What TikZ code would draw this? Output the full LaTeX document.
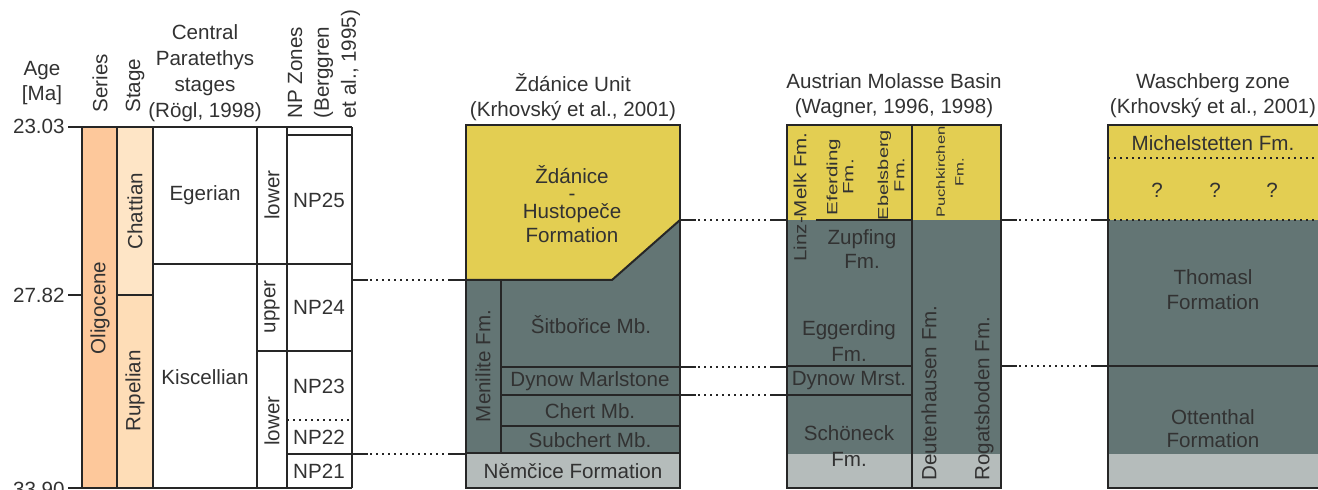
\documentclass[tikz,border=0pt]{standalone}
\usepackage{fontspec}
\setmainfont{Liberation Sans}
\usepackage{xcolor}

\definecolor{olig}{RGB}{253,200,155}
\definecolor{chatt}{RGB}{254,229,198}
\definecolor{rupel}{RGB}{254,221,183}
\definecolor{fmyellow}{RGB}{227,206,82}
\definecolor{fmgrey}{RGB}{99,117,116}
\definecolor{fmlight}{RGB}{181,188,187}
\definecolor{ink}{RGB}{50,50,50}

% correlation line: solid stubs at the ends, dotted between
\newcommand{\corrline}[2]{%
  \draw[dotrule] (#1) -- (#2);
  \draw[rule] (#1) -- ++(16,0);
  \draw[rule] (#2) -- ++(-16,0);}

\begin{document}
\begin{tikzpicture}[
  x=0.5pt, y=-0.5pt,
  every node/.style={font=\fontsize{10.3}{12.6}\selectfont, text=ink, inner sep=0pt},
  frame/.style={draw=black!85, line width=1.2pt},
  rule/.style={draw=black!85, line width=1pt},
  dotrule/.style={draw=black!85, line width=1pt, dash pattern=on 1.2pt off 1.8pt},
  vlabel/.style={rotate=90, align=center},
  squash/.style={rotate=90, yscale=0.72, align=center}
]
\useasboundingbox (0,0) rectangle (1318,490);
\clip (0,0) rectangle (1318,490);

% Headers
\node[align=center] (agehd) at (42,83) {Age\\{[Ma]}};
\node[rotate=90, anchor=west] (serieshd) at (100,113) {Series};
\node[rotate=90, anchor=west] (stagehd) at (135,113) {Stage};
\node[align=center, font=\fontsize{10.3}{13}\selectfont] (cpshd) at (205,73) {Central\\Paratethys\\stages\\(Rögl, 1998)};
\node[rotate=90, anchor=west, align=left, font=\fontsize{10.3}{13.4}\selectfont] (nphd) at (324,119) {NP Zones\\(Berggren\\et al., 1995)};
\node[align=center] (zdhd) at (573,97) {Ždánice Unit\\(Krhovský et al., 2001)};
\node[align=center] (mohd) at (894,96) {Austrian Molasse Basin\\(Wagner, 1996, 1998)};
\node[align=center] (wahd) at (1213,96) {Waschberg zone\\(Krhovský et al., 2001)};

% Ages
\node[anchor=east] (age1) at (65,126) {23.03};
\node[anchor=east] (age2) at (65,295) {27.82};
\node[anchor=east] (age3) at (65,489) {33.90};

% Chronostratigraphy
\fill[olig] (82,127) rectangle (117,488);
\fill[chatt] (117,127) rectangle (153,295);
\fill[rupel] (117,295) rectangle (153,488);
\draw[rule] (68,127) -- (352,127);
\draw[rule] (68,295) -- (82,295);
\draw[rule] (68,488) -- (352,488);
\foreach \x in {82,117,153,257,287,352}
  \draw[rule] (\x,127) -- (\x,488);
\draw[rule] (117,295) -- (153,295);
\draw[rule] (153,264) -- (352,264);
\draw[rule] (257,351) -- (352,351);
\draw[rule] (287,135) -- (352,135);
\draw[dotrule] (287,420) -- (352,420);
\draw[rule] (287,454) -- (352,454);

\node[vlabel] (oligo) at (100,308) {Oligocene};
\node[vlabel] (chatt) at (135,211) {Chattian};
\node[vlabel] (rupel) at (135,391) {Rupelian};
\node (eger) at (205,195) {Egerian};
\node (kisc) at (205,377) {Kiscellian};
\node[vlabel] (low1) at (272,195) {lower};
\node[vlabel] (upp) at (272,307) {upper};
\node[vlabel] (low2) at (272,421) {lower};
\node (np25) at (319,200) {NP25};
\node (np24) at (319,307) {NP24};
\node (np23) at (319,386) {NP23};
\node (np22) at (319,437) {NP22};
\node (np21) at (319,471) {NP21};

% Zdanice Unit
\fill[fmyellow] (466,125) -- (680,125) -- (680,220) -- (612,280) -- (466,280) -- cycle;
\fill[fmgrey] (466,280) -- (612,280) -- (680,220) -- (680,453) -- (466,453) -- cycle;
\fill[fmlight] (466,453) rectangle (680,488);
\draw[rule] (466,280) -- (612,280) -- (680,220);
\draw[rule] (501,280) -- (501,453);
\foreach \y in {367,395,426}
  \draw[rule] (501,\y) -- (680,\y);
\draw[rule] (466,453) -- (680,453);
\draw[frame] (466,125) rectangle (680,488);

\node[align=center] (zdhu) at (572,204) {Ždánice\\[-4pt]-\\[-3.5pt]Hustopeče\\[-1pt]Formation};
\node[vlabel] (menil) at (483,366) {Menilite Fm.};
\node (sitb) at (591,325) {Šitbořice Mb.};
\node (dynz) at (590,381) {Dynow Marlstone};
\node (chert) at (590,411) {Chert Mb.};
\node (subch) at (590,440) {Subchert Mb.};
\node (nemc) at (573,471) {Němčice Formation};

% Austrian Molasse Basin
\fill[fmyellow] (787,125) rectangle (1001,220);
\fill[fmgrey] (787,220) rectangle (1001,454);
\fill[fmlight] (787,454) rectangle (1001,488);
\draw[rule] (912,125) -- (912,488);
\draw[rule] (816,220) -- (912,220);
\foreach \y in {366,395}
  \draw[rule] (787,\y) -- (912,\y);
\draw[frame] (787,125) rectangle (1001,488);

\node[rotate=90, yscale=0.85] (linz) at (800,197) {Linz-Melk Fm.};
\node[squash, font=\fontsize{10.3}{11.2}\selectfont] (efer) at (840,177) {Eferding\\Fm.};
\node[squash, font=\fontsize{10}{11.2}\selectfont] (ebel) at (891,175) {Ebelsberg\\Fm.};
\node[squash, font=\fontsize{8.3}{13}\selectfont] (puch) at (950,172) {Puchkirchen\\Fm.};
\node[align=center, font=\fontsize{10.3}{11.6}\selectfont] (zupf) at (862,249) {Zupfing\\Fm.};
\node[align=center, font=\fontsize{10.3}{13}\selectfont] (egge) at (849,341) {Eggerding\\Fm.};
\node (dynm) at (849,381) {Dynow Mrst.};
\node[align=center, font=\fontsize{10.3}{13}\selectfont] (schon) at (849,446) {Schöneck\\Fm.};
\node[rotate=90, anchor=west] (deut) at (929,481) {Deutenhausen Fm.};
\node[rotate=90, anchor=west] (rogat) at (984,481) {Rogatsboden Fm.};

% Waschberg zone
\fill[fmyellow] (1108,125) rectangle (1330,220);
\fill[fmgrey] (1108,220) rectangle (1330,454);
\fill[fmlight] (1108,454) rectangle (1330,488);
\draw[dotrule] (1108,158) -- (1318,158);
\draw[dotrule] (1108,220) -- (1318,220);
\draw[rule] (1108,366) -- (1318,366);
\draw[frame] (1108,125) rectangle (1330,488);

\node (mich) at (1213,143) {Michelstetten Fm.};
\node (q1) at (1157,190) {?};
\node (q2) at (1215,190) {?};
\node (q3) at (1272,190) {?};
\node[align=center] (thom) at (1213,290) {Thomasl\\Formation};
\node[align=center, font=\fontsize{10.3}{11.6}\selectfont] (otten) at (1213,429) {Ottenthal\\Formation};

% Correlation lines
\coordinate (np-a) at (352,280);
\coordinate (zd-a) at (466,280);
\coordinate (np-b) at (352,454);
\coordinate (zd-b) at (466,454);
\coordinate (zd-c) at (680,220);
\coordinate (mo-c) at (787,220);
\coordinate (zd-d) at (680,367);
\coordinate (mo-d) at (787,367);
\coordinate (zd-e) at (680,395);
\coordinate (mo-e) at (787,395);
\coordinate (mo-f) at (1001,220);
\coordinate (wa-f) at (1108,220);
\coordinate (mo-g) at (1001,366);
\coordinate (wa-g) at (1108,366);
\corrline{np-a}{zd-a}
\corrline{np-b}{zd-b}
\corrline{zd-c}{mo-c}
\corrline{zd-d}{mo-d}
\corrline{zd-e}{mo-e}
\corrline{mo-f}{wa-f}
\corrline{mo-g}{wa-g}

\end{tikzpicture}
\end{document}
